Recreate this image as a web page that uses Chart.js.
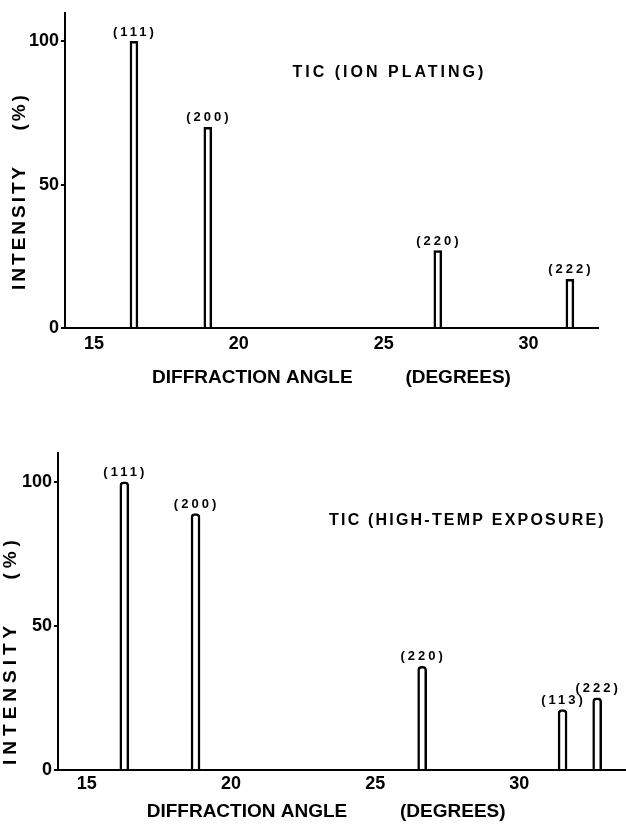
<!DOCTYPE html>
<html>
<head>
<meta charset="UTF-8" />
<script src="https://cdn.jsdelivr.net/npm/chart.js@4.4.1/dist/chart.umd.min.js"></script>
<style>
  body { margin: 0; background: #fff; }
  .panel { position: absolute; left: 0; width: 626px; height: 413px; }
  #top { top: 0; }
  #bottom { top: 413px; }
</style>
</head>
<body>
<div class="panel" id="top"><canvas id="tic1" width="626" height="413"></canvas></div>
<div class="panel" id="bottom"><canvas id="tic2" width="626" height="413"></canvas></div>

<script>
// shared axes
const xTicks = [15, 20, 25, 30];
const yTicks = [0, 50, 100];

// TiC, ion plating
const ionAngles = [16.38, 18.93, 26.87, 31.43];
const ionIntensity = [100, 70, 27, 17];
const ionPlanes = ["(111)", "(200)", "(220)", "(222)"];

// TiC, after high-temp exposure
const hotAngles = [16.3, 18.77, 26.63, 31.5, 32.7];
const hotIntensity = [100, 89, 36, 21, 25];
const hotPlanes = ["(111)", "(200)", "(220)", "(113)", "(222)"];

const FONT = "'Liberation Sans', Arial, sans-serif";

// draws the hkl labels, the panel caption and the spaced-out y title
const peakText = {
  id: "peakText",
  afterDatasetsDraw(chart, args, opts) {
    const { ctx, scales } = chart;
    const meta = chart.getDatasetMeta(0);
    ctx.save();
    ctx.fillStyle = "#000";

    ctx.font = "bold 13px " + FONT;
    ctx.letterSpacing = "3px";
    ctx.textAlign = "center";
    ctx.textBaseline = "bottom";
    meta.data.forEach((bar, i) => {
      ctx.fillText(opts.planes[i], bar.x + 1, bar.y - 3);
    });

    ctx.font = "bold 16px " + FONT;
    ctx.letterSpacing = opts.captionSpacing;
    ctx.textBaseline = "middle";
    ctx.fillText(opts.caption,
      scales.x.getPixelForValue(opts.captionAt[0]),
      scales.y.getPixelForValue(opts.captionAt[1]));

    ctx.translate(opts.yTitleX, opts.yTitleY);
    ctx.rotate(-Math.PI / 2);
    ctx.font = "bold 19px " + FONT;
    ctx.letterSpacing = opts.yTitleSpacing;
    ctx.fillText(opts.yTitle, 0, 0);
    ctx.restore();
  }
};

function makeChart(id, angles, intensity, planes, cfg) {
  return new Chart(document.getElementById(id), {
    type: "bar",
    data: {
      datasets: [{
        data: angles.map((a, i) => ({ x: a, y: intensity[i] })),
        backgroundColor: "#fff",
        borderColor: "#000",
        borderWidth: 2.5,
        borderSkipped: "bottom",
        borderRadius: cfg.radius,
        barThickness: cfg.barWidth
      }]
    },
    options: {
      responsive: false,
      animation: false,
      devicePixelRatio: 1,
      layout: { padding: cfg.padding },
      plugins: {
        legend: { display: false },
        tooltip: { enabled: false },
        peakText: {
          planes: planes,
          caption: cfg.caption,
          captionAt: cfg.captionAt,
          captionSpacing: cfg.captionSpacing,
          yTitle: "INTENSITY    (%)",
          yTitleX: cfg.yTitleX,
          yTitleY: cfg.yTitleY,
          yTitleSpacing: cfg.yTitleSpacing
        }
      },
      scales: {
        x: {
          type: "linear",
          min: 14,
          max: cfg.xMax,
          offset: false,
          afterBuildTicks: (s) => { s.ticks = xTicks.map((v) => ({ value: v })); },
          afterFit: (s) => { s.height = cfg.xHeight; },
          grid: { display: false, drawTicks: false },
          border: { display: true, color: "#000", width: 2 },
          ticks: { color: "#000", padding: cfg.xTickPad, font: { family: FONT, size: 18, weight: "bold" } },
          title: {
            display: true,
            text: cfg.xTitle,
            color: "#000",
            font: { family: FONT, size: 19, weight: "bold" },
            padding: { top: 0, bottom: cfg.xTitlePad }
          }
        },
        y: {
          min: 0,
          max: 110,
          afterBuildTicks: (s) => { s.ticks = yTicks.map((v) => ({ value: v })); },
          afterFit: (s) => { s.width = cfg.yWidth; },
          grid: { drawOnChartArea: false, color: "#000", lineWidth: 2, tickLength: 4 },
          border: { display: true, color: "#000", width: 2 },
          ticks: { color: "#000", padding: 2, font: { family: FONT, size: 18, weight: "bold" } }
        }
      }
    },
    plugins: [peakText]
  });
}

makeChart("tic1", ionAngles, ionIntensity, ionPlanes, {
  padding: { top: 10, right: 28, left: 0, bottom: 0 },
  xMax: 32.4, xHeight: 85, xTickPad: 5, xTitlePad: 24,
  xTitle: "DIFFRACTION ANGLE          (DEGREES)",
  yWidth: 65, barWidth: 8, radius: 0,
  caption: "TIC (ION PLATING)", captionAt: [25.2, 89], captionSpacing: "3px",
  yTitleX: 20, yTitleY: 191, yTitleSpacing: "3px"
});

makeChart("tic2", hotAngles, hotIntensity, hotPlanes, {
  padding: { top: 40, right: 0, left: 0, bottom: 0 },
  xMax: 33.7, xHeight: 56, xTickPad: 3, xTitlePad: 3,
  xTitle: "DIFFRACTION ANGLE          (DEGREES)      ",
  yWidth: 58, barWidth: 9, radius: { topLeft: 4, topRight: 4 },
  caption: "TIC (HIGH-TEMP EXPOSURE)", captionAt: [28.2, 86.5], captionSpacing: "2.2px",
  yTitleX: 11, yTitleY: 237, yTitleSpacing: "5px"
});
</script>
</body>
</html>
